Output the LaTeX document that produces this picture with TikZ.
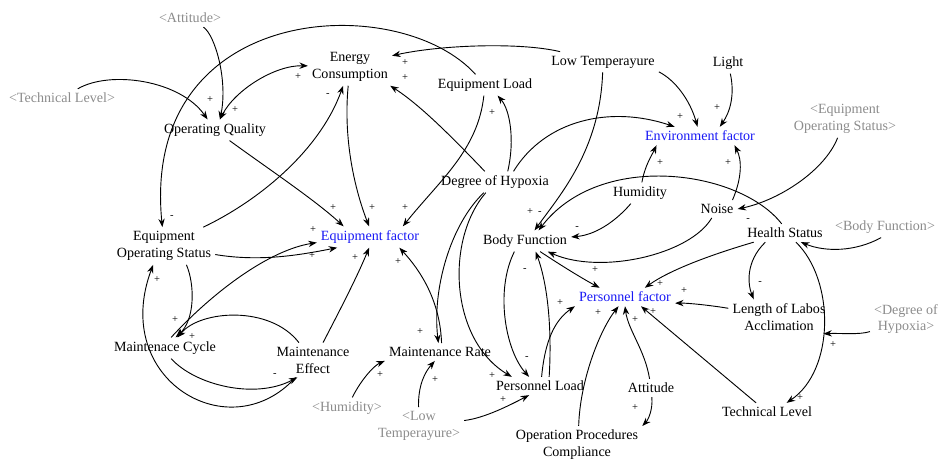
\documentclass[tikz,border=0pt]{standalone}
\usepackage{fontspec}
\setmainfont{Liberation Serif}
\usetikzlibrary{arrows.meta}
\definecolor{vblue}{RGB}{25,25,245}
\definecolor{vgray}{RGB}{140,140,140}
\tikzset{
  var/.style={inner sep=1pt, outer sep=2pt, align=center, font=\fontsize{10}{12}\selectfont},
  shadowvar/.style={var, text=vgray},
  factor/.style={var, text=vblue},
  sgn/.style={inner sep=0pt, font=\fontsize{7.5}{8}\selectfont},
}
\begin{document}
\begin{tikzpicture}[x=0.025cm, y=-0.025cm, >={Stealth[length=6pt,width=4.5pt]}, line width=0.65pt]
\useasboundingbox (0,0) rectangle (941,461);

\node[shadowvar] (sAtt) at (190,18) {<Attitude>};
\node[shadowvar] (sTL) at (62,98) {<Technical Level>};
\node[var] (OQ) at (215,130) {Operating Quality};
\node[var] (EC) at (350,67) {Energy\\Consumption};
\node[var] (EL) at (485,85) {Equipment Load};
\node[var] (LT) at (603,62) {Low Temperayure};
\node[var] (LI) at (728,63) {Light};
\node[factor] (EnvF) at (700,136) {Environment factor};
\node[shadowvar] (sEOS) at (845,119) {<Equipment\\Operating Status>};
\node[var] (DoH) at (495,182) {Degree of Hypoxia};
\node[var] (Hum) at (640,193) {Humidity};
\node[var] (Noi) at (717,209) {Noise};
\node[var] (HS) at (785,233) {Health Status};
\node[shadowvar] (sBF) at (885,227) {<Body Function>};
\node[var] (EOS) at (164,246) {Equipment\\Operating Status};
\node[factor] (EqF) at (370,237) {Equipment factor};
\node[var] (BF) at (525,241) {Body Function};
\node[factor] (PF) at (625,297) {Personnel factor};
\node[var] (LLA) at (779,317) {Length of Labos\\Acclimation};
\node[shadowvar] (sDoH) at (906,319) {<Degree of\\Hypoxia>};
\node[var] (MC) at (165,348) {Maintenace Cycle};
\node[var] (ME) at (313,360) {Maintenance\\Effect};
\node[var] (MR) at (440,352) {Maintenance Rate};
\node[var] (PL) at (540,386) {Personnel Load};
\node[var] (Att) at (651,388) {Attitude};
\node[var] (TL) at (767,412) {Technical Level};
\node[shadowvar] (sHum) at (347,408) {<Humidity>};
\node[shadowvar] (sLT) at (419,426) {<Low\\Temperayure>};
\node[var] (OPC) at (577,445) {Operation Procedures\\Compliance};

\draw[->] (sAtt) .. controls (215,35) and (228,80) .. (OQ.65) node[sgn] at (235,110) {+};
\draw[->] (sTL) .. controls (110,70) and (180,80) .. (OQ.125) node[sgn] at (210,100) {+};
\draw[<->] (EC) .. controls (275,65) and (235,90) .. (OQ.65) node[sgn] at (298,77) {+};
\draw[->] (EL) .. controls (400,-10) and (140,0) .. (EOS.95) node[sgn] at (172,217) {-};
\draw[->] (LT) .. controls (520,42) and (440,45) .. (EC.15) node[sgn] at (405,63) {+};
\draw[->] (EL) .. controls (478,150) and (440,180) .. (EqF.18) node[sgn] at (405,208) {+};
\draw[->] (DoH.40) .. controls (515,140) and (510,110) .. (EL.-40) node[sgn] at (492,113) {+};
\draw[->] (DoH) .. controls (450,135) and (420,105) .. (EC.-25) node[sgn] at (405,78) {+};
\draw[->] (EC) .. controls (343,140) and (355,190) .. (EqF.95) node[sgn] at (372,208) {+};
\draw[->] (EOS) .. controls (260,200) and (320,150) .. (EC.-110) node[sgn] at (328,95) {-};
\draw[->] (OQ) .. controls (270,170) and (315,200) .. (EqF.158) node[sgn] at (333,208) {+};
\draw[->] (EOS) .. controls (260,262) and (300,255) .. (EqF.198) node[sgn] at (312,256) {+};
\draw[->] (MC.60) .. controls (215,290) and (270,250) .. (EqF.186) node[sgn] at (313,230) {+};
\draw[->] (EOS.-40) .. controls (195,285) and (195,320) .. (MC.45) node[sgn] at (175,320) {+};
\draw[->] (ME.129) .. controls (270,305) and (200,310) .. (MC.40) node[sgn] at (192,337) {+};
\draw[->] (MC.-60) .. controls (195,385) and (255,400) .. (ME.228) node[sgn] at (275,375) {-};
\draw[->] (ME.225) .. controls (230,450) and (110,380) .. (EOS.-120) node[sgn] at (157,280) {+};
\draw[->] (ME.60) .. controls (340,310) and (358,275) .. (EqF.-95) node[sgn] at (355,258) {+};
\draw[->] (DoH) .. controls (450,225) and (432,290) .. (MR.100) node[sgn] at (420,332) {+};
\draw[->] (MR.80) .. controls (440,300) and (420,270) .. (EqF.-20) node[sgn] at (398,262) {+};
\draw[->] (DoH) .. controls (445,240) and (450,340) .. (PL.162) node[sgn] at (492,376) {+};
\draw[->] (BF.-135) .. controls (495,290) and (505,350) .. (PL.140) node[sgn] at (527,358) {-};
\draw[->] (PL.45) .. controls (552,330) and (548,285) .. (BF.-45) node[sgn] at (525,270) {-};
\draw[->] (PL.80) .. controls (545,340) and (555,320) .. (PF.south west) node[sgn] at (560,303) {+};
\draw[->] (BF.-35) .. controls (565,268) and (585,280) .. (PF.160) node[sgn] at (595,270) {+};
\draw[->] (Noi) .. controls (690,255) and (600,275) .. (BF.-25);
\draw[->] (Hum) .. controls (615,222) and (595,235) .. (BF.5) node[sgn] at (577,228) {-};
\draw[->] (LT) .. controls (600,150) and (560,195) .. (BF.48) node[sgn] at (540,213) {-};
\draw[->] (HS.110) .. controls (740,170) and (600,150) .. (BF.38) node[sgn] at (530,212) {+};
\draw[->] (Hum) .. controls (645,165) and (652,155) .. (EnvF.-168) node[sgn] at (660,163) {+};
\draw[->] (Noi.30) .. controls (742,178) and (742,160) .. (EnvF.-15) node[sgn] at (728,163) {+};
\draw[->] (LT.-10) .. controls (675,80) and (690,100) .. (EnvF.105) node[sgn] at (680,117) {+};
\draw[->] (DoH.30) .. controls (545,120) and (610,105) .. (EnvF.160);
\draw[->] (LI) .. controls (735,95) and (730,112) .. (EnvF.25) node[sgn] at (717,108) {+};
\draw[->] (sEOS) .. controls (825,170) and (780,200) .. (Noi.0) node[sgn] at (748,220) {-};
\draw[->] (sBF.-110) .. controls (855,252) and (825,252) .. (HS.-30);
\draw[->] (HS) .. controls (710,255) and (670,270) .. (PF.25) node[sgn] at (660,284) {+};
\draw[->] (LLA) .. controls (715,306) and (690,303) .. (PF.-7) node[sgn] at (684,291) {+};
\draw[->] (HS.-155) .. controls (745,262) and (748,285) .. (LLA.145) node[sgn] at (760,283) {-};
\draw[->] (HS.-40) .. controls (835,280) and (835,370) .. (TL.25) coordinate[pos=.55] (HT) node[sgn] at (800,398) {+};
\draw[->] (sDoH) .. controls (860,335) and (840,333) .. (HT) node[sgn] at (833,345) {+};
\draw[->] (TL) -- (PF.-30) node[sgn] at (653,312) {+};
\draw[->] (Att) .. controls (645,350) and (628,330) .. (PF.-90) node[sgn] at (635,320) {+};
\draw[->] (Att) .. controls (653,410) and (648,420) .. (OPC.north east) node[sgn] at (635,408) {+};
\draw[->] (OPC.85) .. controls (580,380) and (600,330) .. (PF.-125) node[sgn] at (598,313) {+};
\draw[->] (sHum) .. controls (362,378) and (375,365) .. (MR.south west) node[sgn] at (380,375) {+};
\draw[->] (sLT) .. controls (418,385) and (425,372) .. (MR.-120) node[sgn] at (435,380) {+};
\draw[->] (sLT) .. controls (485,418) and (510,405) .. (PL.-140) node[sgn] at (503,400) {+};
\end{tikzpicture}
\end{document}
